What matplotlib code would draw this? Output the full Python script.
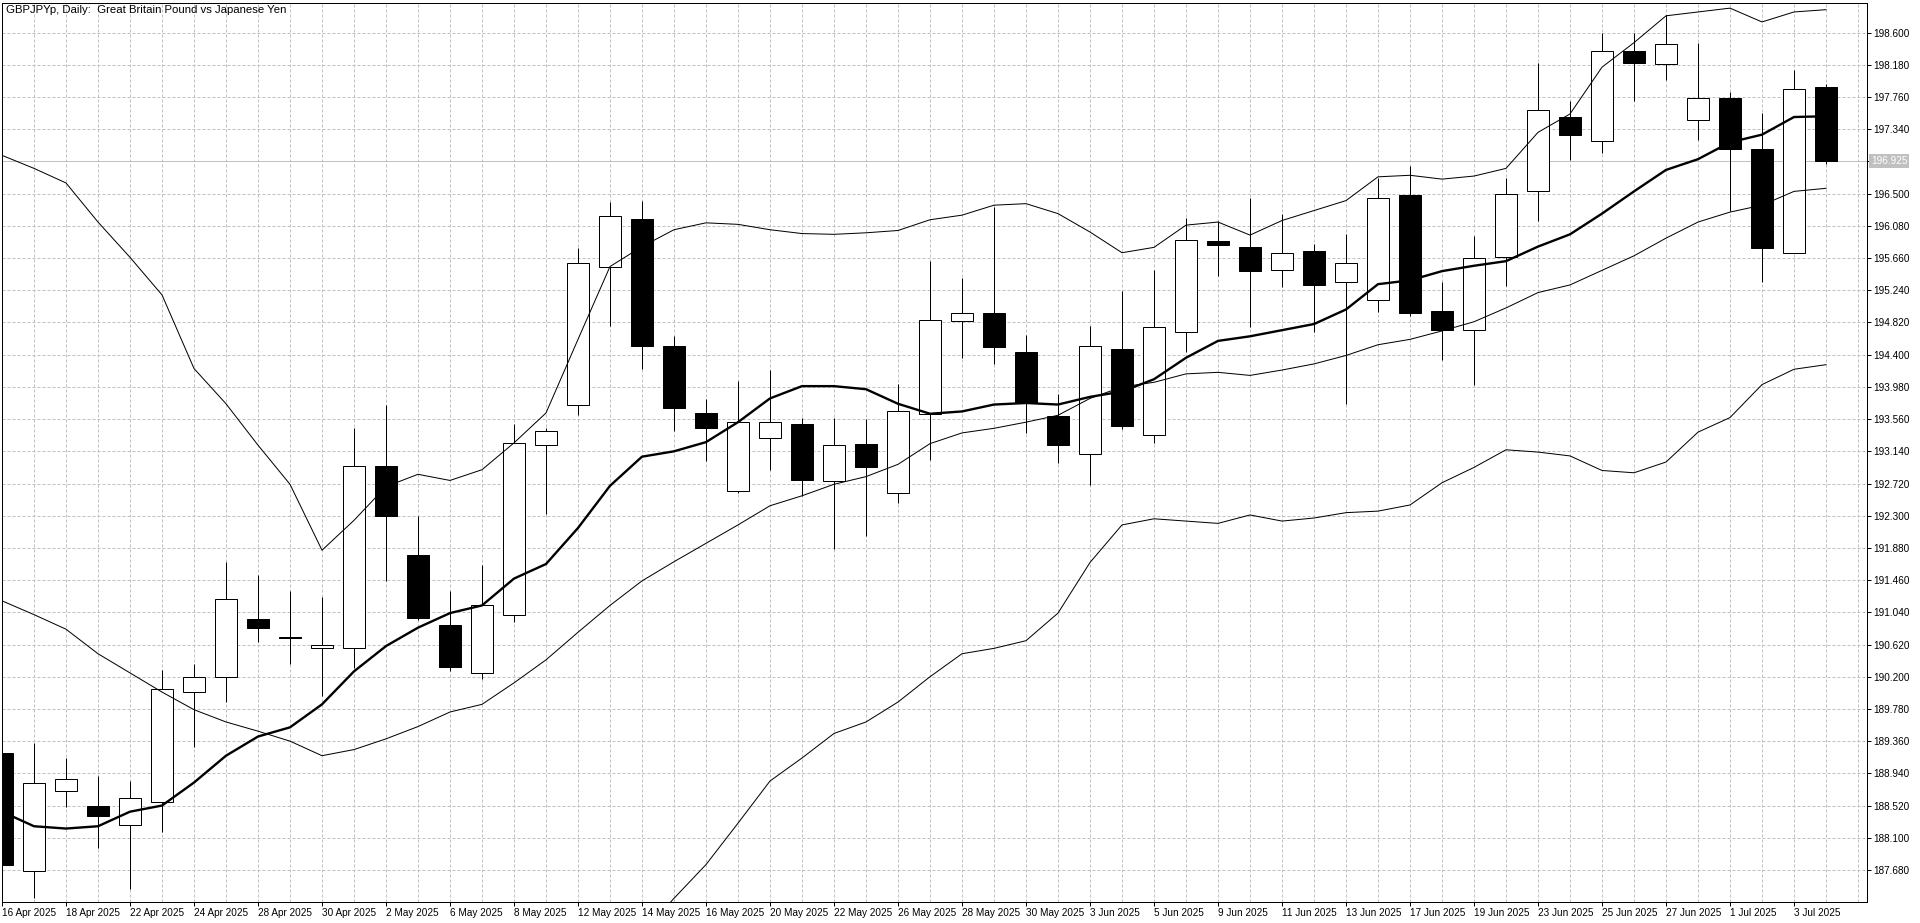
import matplotlib
matplotlib.use("Agg")
import matplotlib.pyplot as plt
import matplotlib.transforms as mtransforms
import numpy as np

# daily bars, 16 Apr 2025 .. 4 Jul 2025
dates = ["16 Apr 2025", "17 Apr 2025", "18 Apr 2025", "21 Apr 2025", "22 Apr 2025",
         "23 Apr 2025", "24 Apr 2025", "25 Apr 2025", "28 Apr 2025", "29 Apr 2025",
         "30 Apr 2025", "1 May 2025", "2 May 2025", "5 May 2025", "6 May 2025",
         "7 May 2025", "8 May 2025", "9 May 2025", "12 May 2025", "13 May 2025",
         "14 May 2025", "15 May 2025", "16 May 2025", "19 May 2025", "20 May 2025",
         "21 May 2025", "22 May 2025", "23 May 2025", "26 May 2025", "27 May 2025",
         "28 May 2025", "29 May 2025", "30 May 2025", "2 Jun 2025", "3 Jun 2025",
         "4 Jun 2025", "5 Jun 2025", "6 Jun 2025", "9 Jun 2025", "10 Jun 2025",
         "11 Jun 2025", "12 Jun 2025", "13 Jun 2025", "16 Jun 2025", "17 Jun 2025",
         "18 Jun 2025", "19 Jun 2025", "20 Jun 2025", "23 Jun 2025", "24 Jun 2025",
         "25 Jun 2025", "26 Jun 2025", "27 Jun 2025", "30 Jun 2025", "1 Jul 2025",
         "2 Jul 2025", "3 Jul 2025", "4 Jul 2025"]

opens = [189.20, 187.66, 188.71, 188.52, 188.27, 188.57, 190.00, 190.20, 190.95, 190.72,
         190.58, 190.58, 192.95, 191.79, 190.87, 190.25, 191.01, 193.22, 193.75, 195.55,
         196.17, 194.52, 193.64, 192.62, 193.31, 193.50, 192.75, 193.24, 192.59, 193.63,
         194.84, 194.94, 194.43, 193.60, 193.11, 194.47, 193.35, 194.70, 195.88, 195.81,
         195.51, 195.75, 195.35, 195.11, 196.48, 194.97, 194.72, 195.67, 196.54, 197.50,
         197.19, 198.36, 198.19, 197.46, 197.75, 197.08, 195.73, 197.89]
highs = [189.22, 189.34, 189.14, 188.91, 188.84, 190.29, 190.37, 191.70, 191.53, 191.32,
         191.24, 193.45, 193.74, 192.29, 191.32, 191.66, 193.49, 193.45, 195.79, 196.39,
         196.41, 194.64, 193.82, 194.06, 194.20, 193.57, 193.57, 193.56, 194.02, 195.62,
         195.40, 196.32, 194.66, 193.89, 194.78, 195.23, 195.50, 196.18, 196.14, 196.45,
         196.24, 195.85, 195.97, 196.70, 196.86, 195.35, 195.95, 196.71, 198.21, 197.71,
         198.59, 198.60, 198.83, 198.47, 197.82, 197.55, 198.11, 197.93]
lows = [187.72, 187.31, 188.50, 187.97, 187.43, 188.17, 189.28, 189.87, 190.65, 190.37,
        189.95, 190.31, 191.45, 190.94, 190.28, 190.17, 190.92, 192.32, 193.62, 194.77,
        194.22, 193.40, 193.01, 192.59, 192.90, 192.56, 191.87, 192.04, 192.47, 193.03,
        194.36, 194.28, 193.38, 192.99, 192.70, 193.43, 193.25, 194.44, 195.42, 194.76,
        195.28, 194.70, 193.76, 194.96, 194.90, 194.33, 194.00, 195.29, 196.15, 196.94,
        197.03, 197.71, 197.98, 197.20, 196.27, 195.35, 195.72, 196.89]
closes = [187.75, 188.82, 188.86, 188.38, 188.62, 190.04, 190.20, 191.21, 190.84, 190.70,
          190.62, 192.95, 192.30, 190.96, 190.33, 191.13, 193.25, 193.41, 195.59, 196.21,
          194.51, 193.70, 193.45, 193.52, 193.52, 192.77, 193.22, 192.94, 193.66, 194.85,
          194.95, 194.50, 193.77, 193.22, 194.51, 193.47, 194.76, 195.90, 195.83, 195.49,
          195.73, 195.31, 195.59, 196.45, 194.95, 194.72, 195.66, 196.49, 197.59, 197.27,
          198.36, 198.20, 198.45, 197.75, 197.08, 195.79, 197.87, 196.925]

# moving average (thick line)
ma = [188.44, 188.25, 188.22, 188.25, 188.44, 188.52, 188.82, 189.17, 189.42, 189.54,
      189.84, 190.27, 190.60, 190.84, 191.03, 191.13, 191.48, 191.67, 192.14, 192.69,
      193.07, 193.14, 193.26, 193.52, 193.83, 193.99, 193.99, 193.95, 193.76, 193.63,
      193.66, 193.75, 193.77, 193.75, 193.85, 193.92, 194.08, 194.36, 194.58, 194.64,
      194.72, 194.80, 194.99, 195.32, 195.37, 195.49, 195.56, 195.62, 195.81, 195.97,
      196.24, 196.53, 196.81, 196.95, 197.17, 197.27, 197.50, 197.51]

# bollinger bands (thin lines)
bb_upper = [197.00, 196.83, 196.64, 196.13, 195.67, 195.18, 194.22, 193.76, 193.22, 192.71,
            191.85, 192.24, 192.68, 192.84, 192.76, 192.90, 193.25, 193.64, 194.60, 195.55,
            195.81, 196.03, 196.12, 196.10, 196.03, 195.98, 195.97, 195.99, 196.02, 196.16,
            196.22, 196.35, 196.37, 196.24, 196.00, 195.73, 195.80, 196.09, 196.13, 195.96,
            196.15, 196.28, 196.41, 196.72, 196.74, 196.69, 196.73, 196.83, 197.30, 197.54,
            198.15, 198.47, 198.82, 198.87, 198.92, 198.74, 198.87, 198.90]
bb_mid = [191.19, 191.01, 190.82, 190.50, 190.25, 190.00, 189.77, 189.61, 189.49, 189.36,
          189.17, 189.25, 189.39, 189.55, 189.74, 189.84, 190.12, 190.42, 190.78, 191.13,
          191.45, 191.70, 191.94, 192.18, 192.43, 192.56, 192.71, 192.81, 192.97, 193.24,
          193.38, 193.44, 193.52, 193.61, 193.83, 193.98, 194.04, 194.15, 194.17, 194.13,
          194.20, 194.28, 194.39, 194.53, 194.60, 194.71, 194.83, 195.01, 195.21, 195.31,
          195.50, 195.69, 195.92, 196.13, 196.26, 196.35, 196.53, 196.57]
bb_lower = [np.nan] * 20 + [
            186.85, 187.31, 187.75, 188.29, 188.84, 189.14, 189.46, 189.61, 189.87, 190.20,
            190.50, 190.57, 190.67, 191.03, 191.69, 192.18, 192.26, 192.23, 192.20, 192.31,
            192.23, 192.27, 192.34, 192.36, 192.44, 192.73, 192.93, 193.16, 193.13, 193.08,
            192.89, 192.86, 193.00, 193.39, 193.58, 194.01, 194.21, 194.27]

last_price = 196.925
ytick_vals = [187.68 + 0.42 * k for k in range(27)]

W, H = 1920, 923
fig = plt.figure(figsize=(W / 100, H / 100), dpi=100)
ax = fig.add_axes([2 / W, 21 / H, 1865 / W, 899 / H])

font = "Liberation Sans"
fs = 7.2
px = 0.72  # one pixel in points

x = np.arange(len(dates))
o = np.array(opens)
c = np.array(closes)
up = c >= o

# grid: every bar vertically, every price tick horizontally
grid_kw = dict(color="#c0c0c0", lw=px, linestyle=(0, (3, 2)), zorder=0)
for i in range(len(dates) + 1):
    ax.axvline(i, **grid_kw)
for v in ytick_vals:
    ax.axhline(v, **grid_kw)

ax.axhline(last_price, color="#c0c0c0", lw=px, zorder=1)

ax.vlines(x, lows, highs, color="black", lw=px, zorder=2)
body_lo = np.minimum(o, c)
body_h = np.maximum(np.abs(c - o), 0.005)
ax.bar(x, body_h, bottom=body_lo, width=0.69,
       color=np.where(up, "white", "black"), edgecolor="black", linewidth=px, zorder=3)

ax.plot(x, bb_upper, color="black", lw=px, zorder=4)
ax.plot(x, bb_mid, color="black", lw=px, zorder=4)
ax.plot(x, bb_lower, color="black", lw=px, zorder=4)
ax.plot(x, ma, color="black", lw=1.7, zorder=5)

ax.set_xlim(0, 1865 / 32)
ax.set_ylim(187.262, 198.987)

# axes / ticks
for s in ax.spines.values():
    s.set_linewidth(px)
    s.set_color("black")

ax.yaxis.tick_right()
ax.set_yticks(ytick_vals)
ax.set_yticklabels(["" if abs(v - 196.92) < 1e-6 else "%.3f" % v for v in ytick_vals])
ax.tick_params(axis="y", direction="out", length=4 * px, width=px, pad=1.5,
               labelsize=fs, colors="black")

ax.set_xticks(x[::2])
ax.set_xticklabels(dates[::2])
ax.tick_params(axis="x", direction="out", length=4 * px, width=px, pad=1.5,
               labelsize=fs, colors="black")
for lbl in ax.get_xticklabels():
    lbl.set_horizontalalignment("left")
for lbl in ax.get_xticklabels() + ax.get_yticklabels():
    lbl.set_fontfamily(font)

trans = mtransforms.blended_transform_factory(ax.transAxes, ax.transData)
ax.text(1.0 + 4 / 1865, last_price, "196.925", transform=trans, va="center", ha="left",
        fontsize=fs, family=font, color="white",
        bbox=dict(boxstyle="square,pad=0.2", facecolor="#c0c0c0", edgecolor="none"))

fig.text(6 / W, 1 - 5 / H, "GBPJPYp, Daily:  Great Britain Pound vs Japanese Yen",
         ha="left", va="top", fontsize=8.2, family=font, color="black")

fig.savefig("out.png", dpi=100, facecolor="white")
